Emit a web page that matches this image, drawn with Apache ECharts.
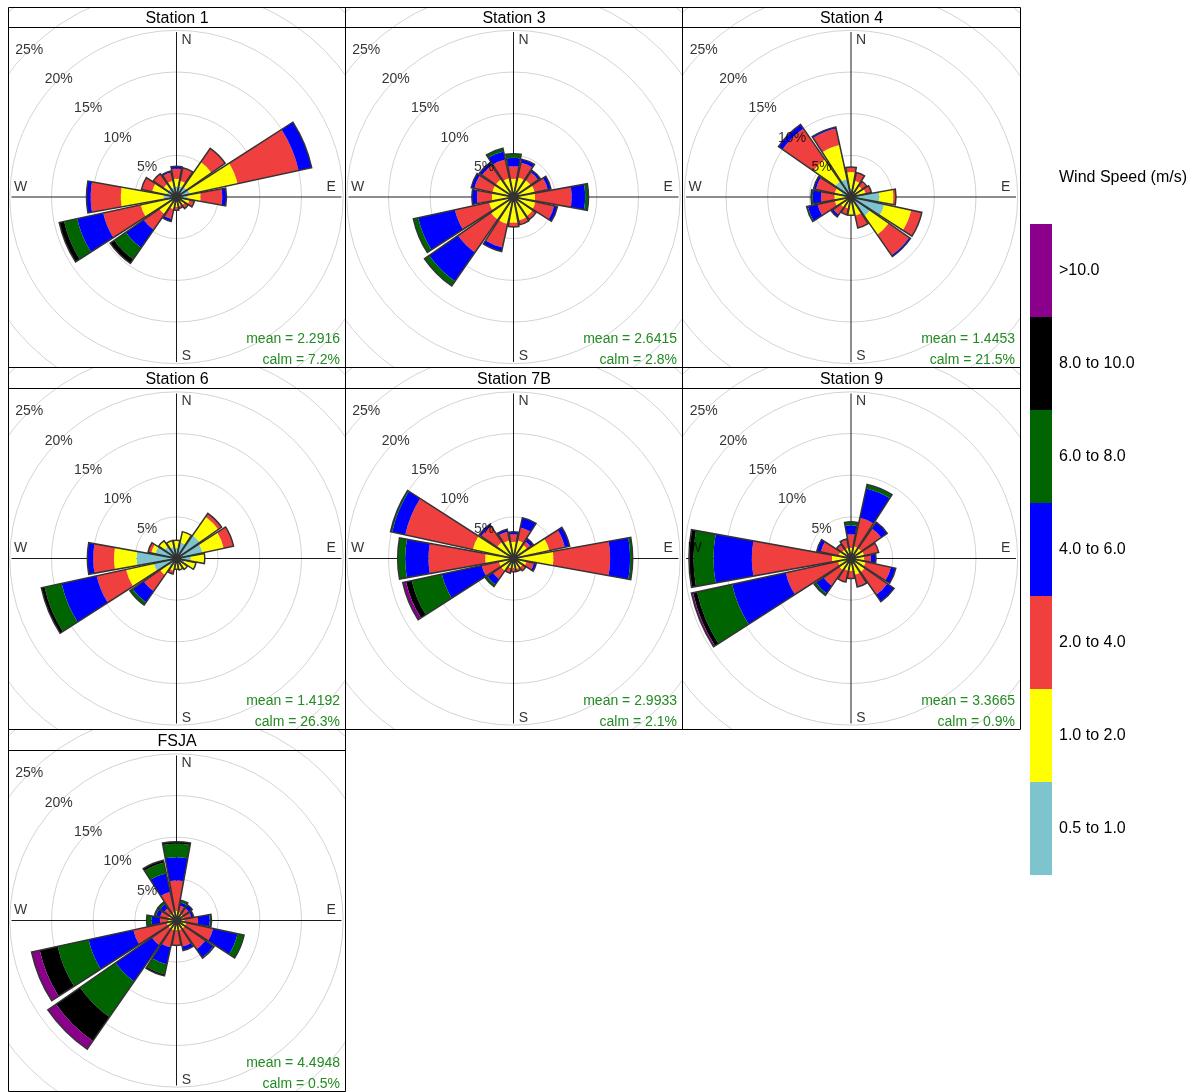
<!DOCTYPE html>
<html><head><meta charset="utf-8">
<script src="https://cdn.jsdelivr.net/npm/echarts@6/dist/echarts.min.js"></script>
<style>
html,body{margin:0;padding:0;background:#fff;width:1200px;height:1092px;overflow:hidden}
.p{position:absolute}
</style></head><body>
<script>
// ---------- data ----------
const directions = ['N','NNE','NE','ENE','E','ESE','SE','SSE','S','SSW','SW','WSW','W','WNW','NW','NNW'];
const speedBins = ['0.5 to 1.0','1.0 to 2.0','2.0 to 4.0','4.0 to 6.0','6.0 to 8.0','8.0 to 10.0','>10.0'];
const binColors = ['#7EC4CF','#FFFF00','#EF3F3F','#0000FF','#006400','#000000','#8B008B'];
const stationNames = ['Station 1','Station 3','Station 4','Station 6','Station 7B','Station 9','FSJA'];
const meanSpeeds = ['2.2916','2.6415','1.4453','1.4192','2.9933','3.3665','4.4948'];
const calmPercents = ['7.2','2.8','21.5','26.3','2.1','0.9','0.5'];
const ringTicks = [5,10,15,20,25];
const compassLabels = ['N','E','S','W'];

// rows: speed bins (low -> high); columns: directions (% frequency)
const station1 = [
  [1.2,1.3,1.5,1.6,1.3,0.8,0.6,0.5,0.5,0.5,0.6,1.0,1.5,1.2,1.2,1.2],
  [1.0,0.7,3.6,5.9,1.6,0.8,0.6,0.6,0.7,1.0,1.9,3.4,5.2,1.8,0.7,0.8],
  [1.2,1.6,2.0,7.5,2.6,0.6,0.5,0.3,0.4,1.2,2.3,4.6,3.6,1.3,1.5,1.0],
  [0.3,0,0,1.6,0.5,0,0,0,0,0.3,2.6,3.2,0.5,0,0,0.2],
  [0,0,0,0,0,0,0,0,0,0,1.7,1.6,0,0,0,0],
  [0,0,0,0,0,0,0,0,0,0,0.6,0.6,0,0,0,0],
  [0,0,0,0,0,0,0,0,0,0,0,0,0,0,0,0]
];
const station3 = [
  [0.3,0.3,0.3,0.3,0.3,0.3,0.3,0.3,0.3,0.3,0.3,0.3,0.3,0.3,0.3,0.3],
  [1.9,2.1,2.2,2.3,2.3,2.4,2.5,2.6,2.8,3.0,3.0,2.7,2.3,2.3,2.3,2.0],
  [1.5,1.8,1.1,1.6,4.4,2.3,0.5,0.5,0.5,2.9,4.8,4.2,1.8,2.2,2.0,2.3],
  [1.0,0.45,0.3,0.4,1.6,0.4,0,0,0,0.5,4.2,4.5,0.6,0.4,0.4,1.0],
  [0.5,0,0,0,0.4,0,0,0,0,0,0.7,0.6,0,0,0,0.4],
  [0,0,0,0,0,0,0,0,0,0,0,0,0,0,0,0],
  [0,0,0,0,0,0,0,0,0,0,0,0,0,0,0,0]
];
const station4 = [
  [1.0,0.8,0.6,0.8,3.4,4.1,2.8,0.8,0.6,0.5,0.5,0.6,0.6,1.2,2.3,2.2],
  [2.0,1.2,1.0,1.0,1.7,3.3,2.7,1.5,1.6,0.9,1.0,1.4,1.4,0.8,3.2,4.2],
  [0.6,1.0,0.7,0.7,0.3,1.3,3.0,1.5,0,0.8,1.1,2.1,1.6,2.3,4.5,2.0],
  [0,0,0,0,0,0,0.2,0,0,0,0.3,1.2,1.0,0.3,0.6,0.2],
  [0,0,0,0,0,0,0,0,0,0,0,0.15,0.2,0,0,0],
  [0,0,0,0,0,0,0,0,0,0,0,0,0,0,0,0],
  [0,0,0,0,0,0,0,0,0,0,0,0,0,0,0,0]
];
const station6 = [
  [1.2,2.0,3.4,3.2,1.7,1.0,0.8,0.7,0.6,0.6,1.2,2.8,4.8,2.6,1.8,1.4],
  [1.0,1.3,2.7,2.6,1.7,1.4,0.8,0.7,0.7,0.9,1.2,3.4,2.7,0.5,0.8,0.8],
  [0,0,0.5,1.2,0,0,0,0,0,0.4,2.4,3.6,2.5,0.4,0,0],
  [0,0,0,0,0,0,0,0,0,0,1.6,4.3,0.7,0,0,0],
  [0,0,0,0,0,0,0,0,0,0,0.4,2.1,0,0,0,0],
  [0,0,0,0,0,0,0,0,0,0,0,0.4,0,0,0,0],
  [0,0,0,0,0,0,0,0,0,0,0,0,0,0,0,0]
];
const station7B = [
  [0.3,0.3,0.3,0.3,0.3,0.3,0.3,0.3,0.3,0.3,0.3,0.3,0.3,0.3,0.3,0.3],
  [1.7,1.9,1.7,4.1,4.5,1.3,1.0,1.0,0.9,0.9,1.5,1.5,3.1,4.7,2.1,1.9],
  [0.9,1.6,0.5,1.9,6.8,0.9,0.5,0.3,0.4,0.6,1.2,2.1,6.8,8.3,2.3,1.1],
  [0.3,1.2,0.4,0.6,2.4,0.3,0,0,0,0,0.8,4.9,2.8,1.6,0.3,0.3],
  [0,0,0,0,0.3,0,0,0,0,0,0.3,3.7,0.9,0.2,0,0],
  [0,0,0,0,0,0,0,0,0,0,0,0.7,0,0,0,0],
  [0,0,0,0,0,0,0,0,0,0,0,0.4,0,0,0,0]
];
const station9 = [
  [0.2,0.2,0.2,0.2,0.2,0.2,0.2,0.2,0.2,0.2,0.2,0.2,0.2,0.2,0.2,0.2],
  [1.1,1.3,1.3,1.4,1.4,1.6,1.8,1.8,1.3,1.3,1.5,1.4,2.1,1.3,1.1,1.1],
  [1.6,3.5,2.9,1.8,0.8,3.1,3.3,1.4,0.9,1.4,2.3,6.4,9.6,2.2,0.7,1.0],
  [1.1,3.6,0.9,0,0.6,0.6,1.0,0.1,0,0,1.1,6.6,4.6,0.5,0.1,0.1],
  [0.4,0.5,0,0,0,0,0,0,0,0,0.3,4.3,2.4,0,0,0],
  [0,0,0,0,0,0,0,0,0,0,0,0.5,0.5,0,0,0],
  [0,0,0,0,0,0,0,0,0,0,0,0.2,0.05,0,0,0]
];
const stationFSJA = [
  [0.2,0.2,0.2,0.2,0.2,0.2,0.2,0.2,0.2,0.2,0.2,0.2,0.2,0.2,0.2,0.2],
  [1.0,0.8,0.7,0.7,0.8,1.0,1.0,1.0,1.0,1.0,1.0,1.0,0.8,0.8,0.8,0.8],
  [3.6,0.8,0.9,0.9,1.6,3.3,3.0,2.0,1.8,2.1,2.4,4.1,1.0,1.0,0.8,2.5],
  [2.8,0.4,0.5,0.3,1.4,3.0,1.2,0.5,0,2.1,5.3,5.5,1.0,0.5,0.6,2.3],
  [1.6,0.3,0,0,0.2,0.8,0.1,0,0,1.2,5.2,3.8,0.6,0.2,0.3,1.3],
  [0.25,0,0,0,0,0,0,0,0,0.2,3.5,2.2,0,0,0,0.3],
  [0,0,0,0,0,0,0,0,0,0,1.2,1.0,0,0,0,0]
];
const stationData = [station1, station3, station4, station6, station7B, station9, stationFSJA];

// ---------- layout ----------
const FONT = 'Liberation Sans, Arial, Helvetica, sans-serif';
const colLeft = [8, 345, 682], colRight = [345, 682, 1020];
const rowTop = [7, 367, 729], rowBottom = [367, 729, 1091];
const stripH = [20, 21, 21];
const titleTop = [4, 5, 5];

function makeDiv(l, t, w, h) {
  const d = document.createElement('div');
  d.className = 'p';
  d.style.left = l + 'px'; d.style.top = t + 'px';
  d.style.width = w + 'px'; d.style.height = h + 'px';
  document.body.appendChild(d);
  return d;
}

stationData.forEach((data, i) => {
  const r = Math.floor(i / 3), c = i % 3;
  const W = colRight[c] - colLeft[c], H = rowBottom[r] - rowTop[r];
  const div = makeDiv(colLeft[c], rowTop[r], W + 1, H + 1);
  const chart = echarts.init(div, null, {renderer: 'canvas'});
  const center = [W / 2, stripH[r] + (H - stripH[r]) / 2];
  const totals = directions.map((_, j) => data.reduce((s, row) => s + row[j], 0));
  const series = speedBins.map((bin, b) => ({
    name: bin, type: 'bar', coordinateSystem: 'polar', polarIndex: 0,
    stack: 'ws', data: data[b], barCategoryGap: '9%', silent: true, z: 3,
    itemStyle: {color: binColors[b], borderWidth: 0}
  }));
  series.push({
    name: 'outline', type: 'bar', coordinateSystem: 'polar', polarIndex: 0,
    data: totals, barGap: '-100%', barCategoryGap: '9%', silent: true, z: 4,
    itemStyle: {color: 'rgba(0,0,0,0)', borderColor: '#333333', borderWidth: 1.5}
  });
  series.push({
    type: 'scatter', coordinateSystem: 'polar', polarIndex: 2, symbolSize: 0, silent: true, z: 6,
    data: ringTicks.map(t => [t, 315]),
    label: {show: true, position: 'inside', formatter: p => p.value[0] + '%', fontSize: 14, color: '#000', fontFamily: FONT}
  });
  series.push({
    type: 'scatter', coordinateSystem: 'polar', polarIndex: 2, symbolSize: 0, silent: true, z: 6,
    data: [
      {value: [18.85, 0], label: {offset: [10, 0]}},
      {value: [18.55, 90], label: {offset: [0, -10]}},
      {value: [19.1, 180], label: {offset: [10, 0]}},
      {value: [18.7, 270], label: {offset: [0, -10]}}
    ],
    label: {show: true, position: 'inside', formatter: p => compassLabels[p.dataIndex], fontSize: 14, color: '#000', fontFamily: FONT}
  });
  chart.setOption({
    animation: false,
    textStyle: {fontFamily: FONT},
    title: {text: stationNames[i], left: 'center', top: titleTop[r], padding: 0,
      textStyle: {fontSize: 16, fontWeight: 'normal', color: '#000', fontFamily: FONT}},
    polar: [
      {center: center, radius: 250},
      {center: center, radius: 165},
      {center: center, radius: 250}
    ],
    angleAxis: [
      {polarIndex: 0, type: 'category', data: directions, startAngle: 101.25, clockwise: true,
        axisLine: {show: false}, axisTick: {show: false}, axisLabel: {show: false}, splitLine: {show: false}},
      {polarIndex: 1, type: 'value', min: 0, max: 360, interval: 90, startAngle: 90, clockwise: true,
        axisLine: {show: false}, axisTick: {show: false}, axisLabel: {show: false},
        splitLine: {show: true, lineStyle: {color: '#1a1a1a', width: 1}}},
      {polarIndex: 2, type: 'value', min: 0, max: 360, startAngle: 90, clockwise: true, show: false}
    ],
    radiusAxis: [
      {polarIndex: 0, type: 'value', min: 0, max: 30, interval: 5,
        axisLine: {show: false}, axisTick: {show: false}, axisLabel: {show: false},
        splitLine: {show: true, lineStyle: {color: '#d3d3d3', width: 1}}},
      {polarIndex: 1, type: 'value', min: 0, max: 1, show: false},
      {polarIndex: 2, type: 'value', min: 0, max: 30, show: false}
    ],
    graphic: [
      {type: 'rect', silent: true, z: 100, shape: {x: 0.5, y: 0.5, width: W, height: H},
        style: {fill: 'none', stroke: '#000', lineWidth: 1}},
      {type: 'line', silent: true, z: 100, shape: {x1: 0, y1: stripH[r] + 0.5, x2: W + 1, y2: stripH[r] + 0.5},
        style: {stroke: '#000', lineWidth: 1}},
      {type: 'text', silent: true, z: 100, right: 6, bottom: 22,
        style: {text: 'mean = ' + meanSpeeds[i], fill: '#228B22', font: '14px ' + FONT}},
      {type: 'text', silent: true, z: 100, right: 6, bottom: 1,
        style: {text: 'calm = ' + calmPercents[i] + '%', fill: '#228B22', font: '14px ' + FONT}}
    ],
    series: series
  });
});

// ---------- legend ----------
const legendBins = speedBins.slice().reverse();
const legendColors = binColors.slice().reverse();
const legDiv = makeDiv(1020, 150, 180, 740);
const legChart = echarts.init(legDiv);
legChart.setOption({
  animation: false,
  textStyle: {fontFamily: FONT},
  title: {text: 'Wind Speed (m/s)', left: 39, top: 20, padding: 0,
    textStyle: {fontSize: 16, fontWeight: 'normal', color: '#000', fontFamily: FONT}},
  visualMap: {
    type: 'piecewise', categories: legendBins, orient: 'vertical',
    left: 10, top: 74, padding: 0, itemWidth: 22, itemHeight: 93, itemGap: 0, textGap: 7,
    itemSymbol: 'rect', align: 'left', selectedMode: false, hoverLink: false,
    inRange: {color: legendColors},
    textStyle: {fontSize: 16, color: '#000', fontFamily: FONT}
  },
  series: []
});
</script>
</body></html>
